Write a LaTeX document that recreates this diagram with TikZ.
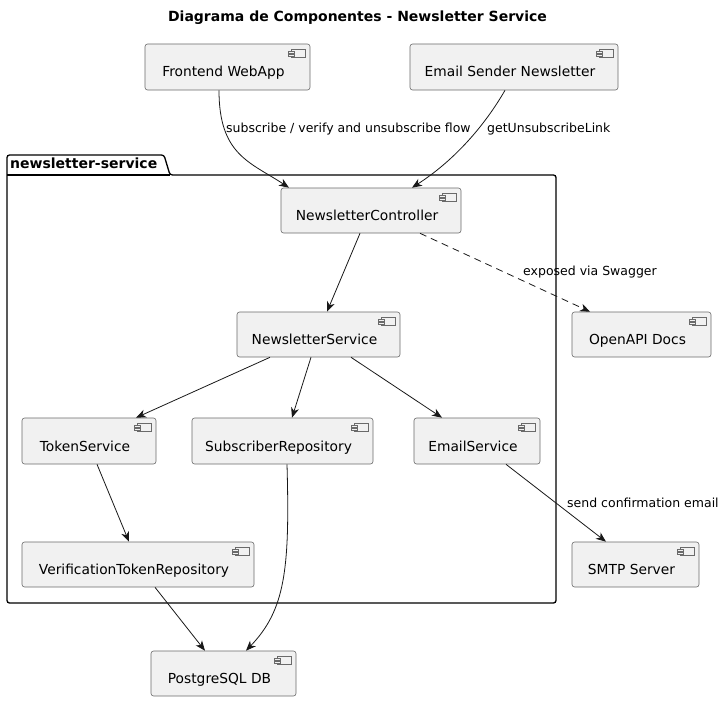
\documentclass[tikz,border=0pt]{standalone}
\usepackage{fontspec}
\setmainfont{DejaVu Sans}
\usetikzlibrary{arrows.meta,calc}
\definecolor{boxfill}{HTML}{F1F1F1}
\definecolor{boxline}{HTML}{6A6A6A}
\definecolor{ink}{HTML}{181818}
\tikzset{
  comp/.style={draw=boxline, fill=boxfill, line width=0.6pt, rounded corners=2.5pt, inner sep=0pt},
  comptext/.style={font=\fontsize{13.8}{16}\selectfont, inner sep=0pt, text=black},
  iconst/.style={draw=boxline, line width=0.5pt, fill=boxfill},
  conn/.style={draw=ink, line width=0.8pt, -{Stealth[length=10pt,width=8pt,inset=3pt]}},
  dashconn/.style={conn, dash pattern=on 7pt off 5pt},
  elabel/.style={font=\fontsize{12.5}{15}\selectfont, inner sep=0pt, text=black},
  pkg/.style={draw=black, line width=1.3pt, rounded corners=2.5pt}
}
\newcommand{\compbox}[6]{%
  \node[comp, minimum width=#4, minimum height=#5] (#1) at (#2,#3) {};
  \node[comptext, anchor=base] (#1-t) at ([shift={(-4,10)}]#1.center) {#6};
  \draw[iconst] ([shift={(-19,6)}]#1.north east) rectangle ([shift={(-5,14)}]#1.north east);
  \draw[iconst] ([shift={(-22,7.5)}]#1.north east) rectangle ([shift={(-16,9.5)}]#1.north east);
  \draw[iconst] ([shift={(-22,10.5)}]#1.north east) rectangle ([shift={(-16,12.5)}]#1.north east);
}
\begin{document}
\begin{tikzpicture}[x=1pt,y=-1pt]
\useasboundingbox (0,0) rectangle (728,701);
% title
\node[font=\fontsize{14}{16}\selectfont\bfseries, inner sep=0pt] (title) at (357.5,18) {Diagrama de Componentes - Newsletter Service};
% package
\draw[pkg] (170,175) -- (164,155) -- (7,155) -- (7,603) -- (556,603) -- (556,175) -- cycle;
\draw[line width=1.3pt] (7,175) -- (170,175);
\node[font=\fontsize{14}{16}\selectfont\bfseries, inner sep=0pt, anchor=base west] (pkgname) at (10,168) {newsletter-service};
% components
\compbox{fe}{227.5}{67}{165}{46}{Frontend WebApp}
\compbox{es}{514}{67}{208}{46}{Email Sender Newsletter}
\compbox{ctrl}{371}{210.5}{180}{45}{NewsletterController}
\compbox{svc}{318.5}{334.5}{163}{45}{NewsletterService}
\compbox{tok}{89}{441}{134}{46}{TokenService}
\compbox{sub}{282.5}{441}{181}{46}{SubscriberRepository}
\compbox{ems}{477}{441}{126}{46}{EmailService}
\compbox{vtr}{138}{564.5}{232}{45}{VerificationTokenRepository}
\compbox{pg}{223.5}{673.5}{145}{45}{PostgreSQL DB}
\compbox{oa}{641.5}{334.5}{139}{45}{OpenAPI Docs}
\compbox{smtp}{635.5}{564.5}{127}{45}{SMTP Server}
% connectors
\draw[conn] ([shift={(-8.5,0)}]fe.south) .. controls (219,155) and (250,162) .. ([shift={(-82,0)}]ctrl.north);
\draw[conn] ([shift={(-9,0)}]es.south) .. controls (485,125) and (455,160) .. ([shift={(41,0)}]ctrl.north);
\node[elabel, anchor=west] (l1) at (226,129) {subscribe / verify and unsubscribe flow};
\node[elabel, anchor=west] (l2) at (487,129) {getUnsubscribeLink};
\draw[conn] ([shift={(-11,0)}]ctrl.south) -- ([shift={(8.5,0)}]svc.north);
\draw[dashconn] ([shift={(49,0)}]ctrl.south) -- ([shift={(-51.5,0)}]oa.north);
\node[elabel, anchor=west] (l3) at (523,272) {exposed via Swagger};
\draw[conn] ([shift={(-48.5,0)}]svc.south) -- ([shift={(47,0)}]tok.north);
\draw[conn] ([shift={(-7.5,0)}]svc.south) -- ([shift={(9.5,0)}]sub.north);
\draw[conn] ([shift={(32.5,0)}]svc.south) -- ([shift={(-35,0)}]ems.north);
\draw[conn] ([shift={(8,0)}]tok.south) -- ([shift={(-9,0)}]vtr.north);
\draw[conn] ([shift={(4.5,0)}]sub.south) .. controls (290,570) and (285,610) .. ([shift={(22.5,0)}]pg.north);
\draw[conn] ([shift={(17,0)}]vtr.south) -- ([shift={(-18.5,0)}]pg.north);
\draw[conn] ([shift={(29,0)}]ems.south) -- ([shift={(-29.5,0)}]smtp.north);
\node[elabel, anchor=west] (l4) at (567,503) {send confirmation email};
\end{tikzpicture}
\end{document}
